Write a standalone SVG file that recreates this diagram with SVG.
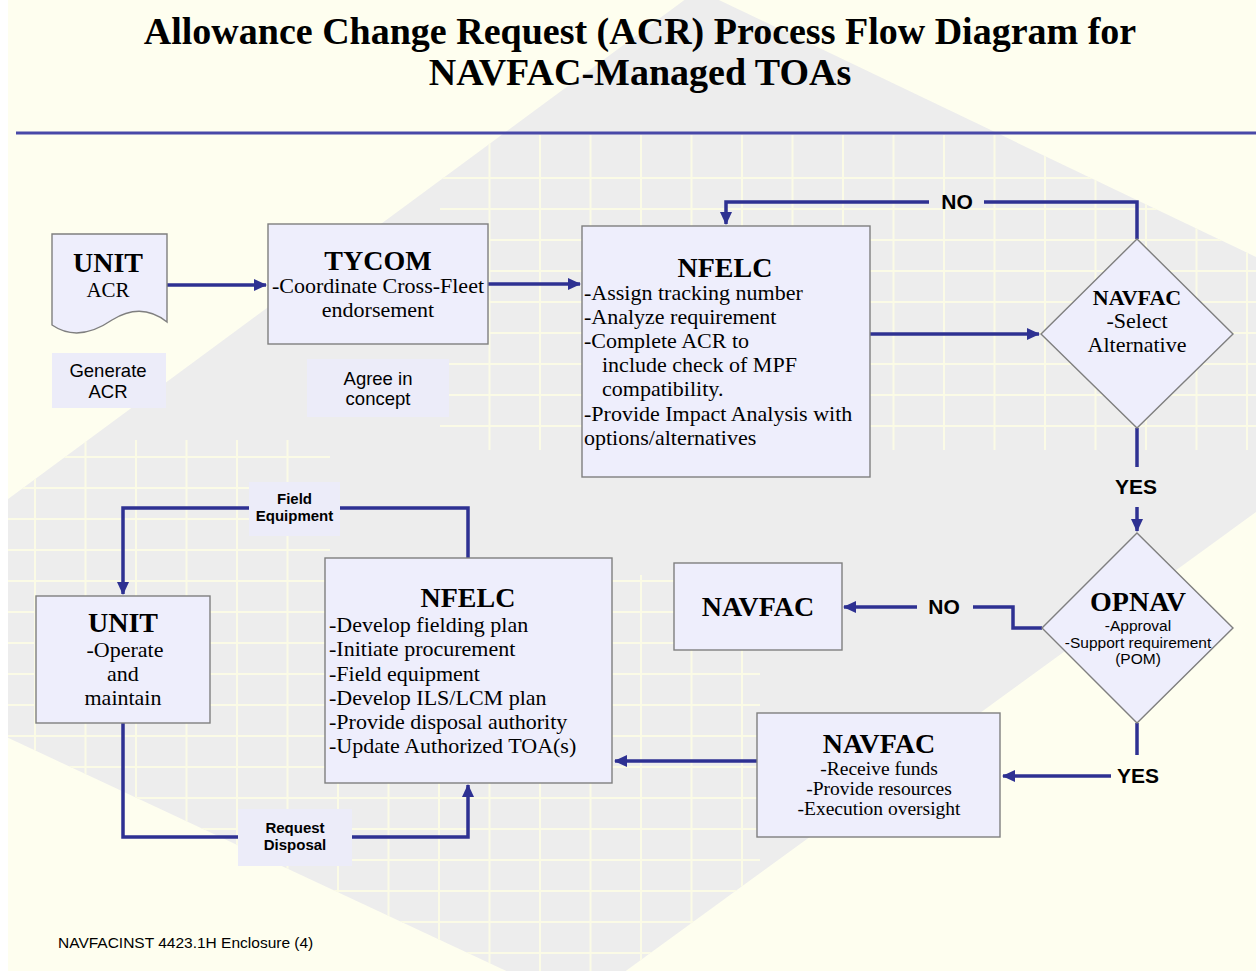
<svg xmlns="http://www.w3.org/2000/svg" width="1256" height="971" viewBox="0 0 1256 971">
<defs>
<style>
.box{fill:#EEEEFC;stroke:#7F7F7F;stroke-width:1.4}
.lbl{fill:#ECECF9;stroke:none}
.con{fill:none;stroke:#2E3192;stroke-width:3.5}
.serif{font-family:"Liberation Serif","Times New Roman",serif;fill:#000}
.sans{font-family:"Liberation Sans",Arial,sans-serif;fill:#000}
.hd{font-weight:bold;font-size:28px}
.tx{font-size:22px}
.yn{font-family:"Liberation Sans",Arial,sans-serif;font-weight:bold;font-size:21px;fill:#000}
.sm{font-family:"Liberation Sans",Arial,sans-serif;font-weight:bold;font-size:15px;fill:#000}
.grid{fill:none;stroke:#FBFBE6;stroke-width:2}
</style>
<marker id="ah" markerUnits="userSpaceOnUse" markerWidth="14" markerHeight="14" refX="12" refY="7" orient="auto">
<path d="M0,1 L13,7 L0,13 Z" fill="#2E3192"/>
</marker>
<clipPath id="grayClip"><polygon points="698,-10 1300,278 1300,480 579,1005 0,734 0,505"/></clipPath>
<clipPath id="patchClip">
<rect x="440" y="135" width="816" height="315"/>
<rect x="0" y="575" width="760" height="396"/>
<rect x="0" y="440" width="330" height="140"/>
</clipPath>
</defs>

<!-- background -->
<rect x="0" y="0" width="1256" height="971" fill="#FEFEEF"/>
<polygon points="698,-10 1300,278 1300,480 579,1005 0,734 0,505" fill="#EDEDED"/>
<g clip-path="url(#grayClip)">
<g clip-path="url(#patchClip)">
<path class="grid" d="M35,0V971M85.5,0V971M136,0V971M186.5,0V971M237,0V971M287.5,0V971M338,0V971M388.5,0V971M439,0V971M489.5,0V971M540,0V971M590.5,0V971M641,0V971M691.5,0V971M742,0V971M792.5,0V971M843,0V971M893.5,0V971M944,0V971M994.5,0V971M1045,0V971M1095.5,0V971M1146,0V971M1196.5,0V971M1247,0V971
M0,178H1256M0,209H1256M0,240H1256M0,271H1256M0,302H1256M0,333H1256M0,364H1256M0,395H1256M0,426H1256M0,457H1256M0,488H1256M0,519H1256M0,550H1256M0,581H1256M0,612H1256M0,643H1256M0,674H1256M0,705H1256M0,736H1256M0,767H1256M0,798H1256M0,829H1256M0,860H1256M0,891H1256M0,922H1256M0,953H1256"/>
</g>
</g>
<rect x="0" y="0" width="8" height="971" fill="#FFFFFF"/>

<!-- title -->
<g id="title">
<text class="serif" x="640" y="44" text-anchor="middle" font-size="38" font-weight="bold">Allowance Change Request (ACR) Process Flow Diagram for</text>
<text class="serif" x="640" y="85" text-anchor="middle" font-size="38" font-weight="bold">NAVFAC-Managed TOAs</text>
<line x1="16" y1="133" x2="1256" y2="133" stroke="#4848A8" stroke-width="3"/>
</g>

<!-- connectors -->
<g id="connectors">
<path class="con" d="M167,285 H266" marker-end="url(#ah)"/>
<path class="con" d="M488,284 H580" marker-end="url(#ah)"/>
<path class="con" d="M870,334 H1039" marker-end="url(#ah)"/>
<path class="con" d="M1137,239 V202 H984"/>
<path class="con" d="M929,202 H726 V224" marker-end="url(#ah)"/>
<path class="con" d="M1137,428 V467"/>
<path class="con" d="M1137,507 V531" marker-end="url(#ah)"/>
<path class="con" d="M1042,628 H1013 V607 H973"/>
<path class="con" d="M917,607 H844" marker-end="url(#ah)"/>
<path class="con" d="M1137,723 V755"/>
<path class="con" d="M1111,776 H1003" marker-end="url(#ah)"/>
<path class="con" d="M757,761 H615" marker-end="url(#ah)"/>
<path class="con" d="M468,558 V508 H123 V594" marker-end="url(#ah)"/>
<path class="con" d="M123,723 V837 H468 V785" marker-end="url(#ah)"/>
<polygon points="862,348 870,352 862,356" fill="#3C78D8"/>
</g>

<!-- connector labels -->
<g id="labels">
<text class="yn" x="957" y="209" text-anchor="middle">NO</text>
<text class="yn" x="1136" y="494" text-anchor="middle">YES</text>
<text class="yn" x="944" y="614" text-anchor="middle">NO</text>
<text class="yn" x="1138" y="783" text-anchor="middle">YES</text>
<g id="lbl-field">
<rect class="lbl" x="249" y="482" width="91" height="54"/>
<text class="sm" x="294.5" y="504" text-anchor="middle">Field</text>
<text class="sm" x="294.5" y="521" text-anchor="middle">Equipment</text>
</g>
<g id="lbl-request">
<rect class="lbl" x="238" y="809" width="114" height="57"/>
<text class="sm" x="295" y="833" text-anchor="middle">Request</text>
<text class="sm" x="295" y="850" text-anchor="middle">Disposal</text>
</g>
<g id="lbl-generate">
<rect class="lbl" x="52" y="353" width="114" height="55"/>
<text class="sans" x="108" y="377" text-anchor="middle" font-size="18.5">Generate</text>
<text class="sans" x="108" y="398" text-anchor="middle" font-size="18.5">ACR</text>
</g>
<g id="lbl-agree">
<rect class="lbl" x="307" y="359" width="142" height="58"/>
<text class="sans" x="378" y="385" text-anchor="middle" font-size="18.5">Agree in</text>
<text class="sans" x="378" y="405" text-anchor="middle" font-size="18.5">concept</text>
</g>
</g>

<!-- nodes -->
<g id="unit-acr">
<path class="box" d="M52,234 H167 V322 C147,306 128,310 112,320 C96,331 74,340 52,325 Z"/>
<text class="serif hd" x="108" y="272" text-anchor="middle">UNIT</text>
<text class="serif" x="108" y="297" text-anchor="middle" font-size="21">ACR</text>
</g>

<g id="tycom">
<rect class="box" x="268" y="224" width="220" height="120"/>
<text class="serif hd" x="378" y="270" text-anchor="middle">TYCOM</text>
<text class="serif tx" x="378" y="293" text-anchor="middle">-Coordinate Cross-Fleet</text>
<text class="serif tx" x="378" y="317" text-anchor="middle">endorsement</text>
</g>

<g id="nfelc-top">
<rect class="box" x="582" y="226" width="288" height="251"/>
<text class="serif hd" x="725" y="277" text-anchor="middle">NFELC</text>
<text class="serif tx" x="584" y="300">-Assign tracking number</text>
<text class="serif tx" x="584" y="324">-Analyze requirement</text>
<text class="serif tx" x="584" y="348">-Complete ACR to</text>
<text class="serif tx" x="602" y="372">include check of MPF</text>
<text class="serif tx" x="602" y="396">compatibility.</text>
<text class="serif tx" x="584" y="421">-Provide Impact Analysis with</text>
<text class="serif tx" x="584" y="445">options/alternatives</text>
</g>

<g id="navfac-select">
<polygon class="box" points="1137,239 1233,334 1137,428 1041,334"/>
<text class="serif" x="1137" y="305" text-anchor="middle" font-size="22" font-weight="bold">NAVFAC</text>
<text class="serif tx" x="1137" y="328" text-anchor="middle">-Select</text>
<text class="serif tx" x="1137" y="352" text-anchor="middle">Alternative</text>
</g>

<g id="opnav">
<polygon class="box" points="1137,533 1233,628 1137,723 1042,628"/>
<text class="serif hd" x="1138" y="611" text-anchor="middle">OPNAV</text>
<text class="sans" x="1138" y="631" text-anchor="middle" font-size="15.5">-Approval</text>
<text class="sans" x="1138" y="648" text-anchor="middle" font-size="15.5">-Support requirement</text>
<text class="sans" x="1138" y="664" text-anchor="middle" font-size="15.5">(POM)</text>
</g>

<g id="navfac-no">
<rect class="box" x="674" y="563" width="168" height="87"/>
<text class="serif hd" x="758" y="616" text-anchor="middle">NAVFAC</text>
</g>

<g id="navfac-funds">
<rect class="box" x="757" y="713" width="243" height="124"/>
<text class="serif hd" x="879" y="753" text-anchor="middle">NAVFAC</text>
<text class="serif" x="879" y="775" text-anchor="middle" font-size="19.5">-Receive funds</text>
<text class="serif" x="879" y="795" text-anchor="middle" font-size="19.5">-Provide resources</text>
<text class="serif" x="879" y="815" text-anchor="middle" font-size="19.5">-Execution oversight</text>
</g>

<g id="nfelc-bottom">
<rect class="box" x="325" y="558" width="287" height="225"/>
<text class="serif hd" x="468" y="607" text-anchor="middle">NFELC</text>
<text class="serif tx" x="329" y="632">-Develop fielding plan</text>
<text class="serif tx" x="329" y="656">-Initiate procurement</text>
<text class="serif tx" x="329" y="681">-Field equipment</text>
<text class="serif tx" x="329" y="705">-Develop ILS/LCM plan</text>
<text class="serif tx" x="329" y="729">-Provide disposal authority</text>
<text class="serif tx" x="329" y="753">-Update Authorized TOA(s)</text>
</g>

<g id="unit-operate">
<rect class="box" x="36" y="596" width="174" height="127"/>
<text class="serif hd" x="123" y="632" text-anchor="middle">UNIT</text>
<text class="serif tx" x="125" y="657" text-anchor="middle">-Operate</text>
<text class="serif tx" x="123" y="681" text-anchor="middle">and</text>
<text class="serif tx" x="123" y="705" text-anchor="middle">maintain</text>
</g>

<!-- footer -->
<text class="sans" x="58" y="948" font-size="15.5" fill="#222">NAVFACINST 4423.1H Enclosure (4)</text>
</svg>
